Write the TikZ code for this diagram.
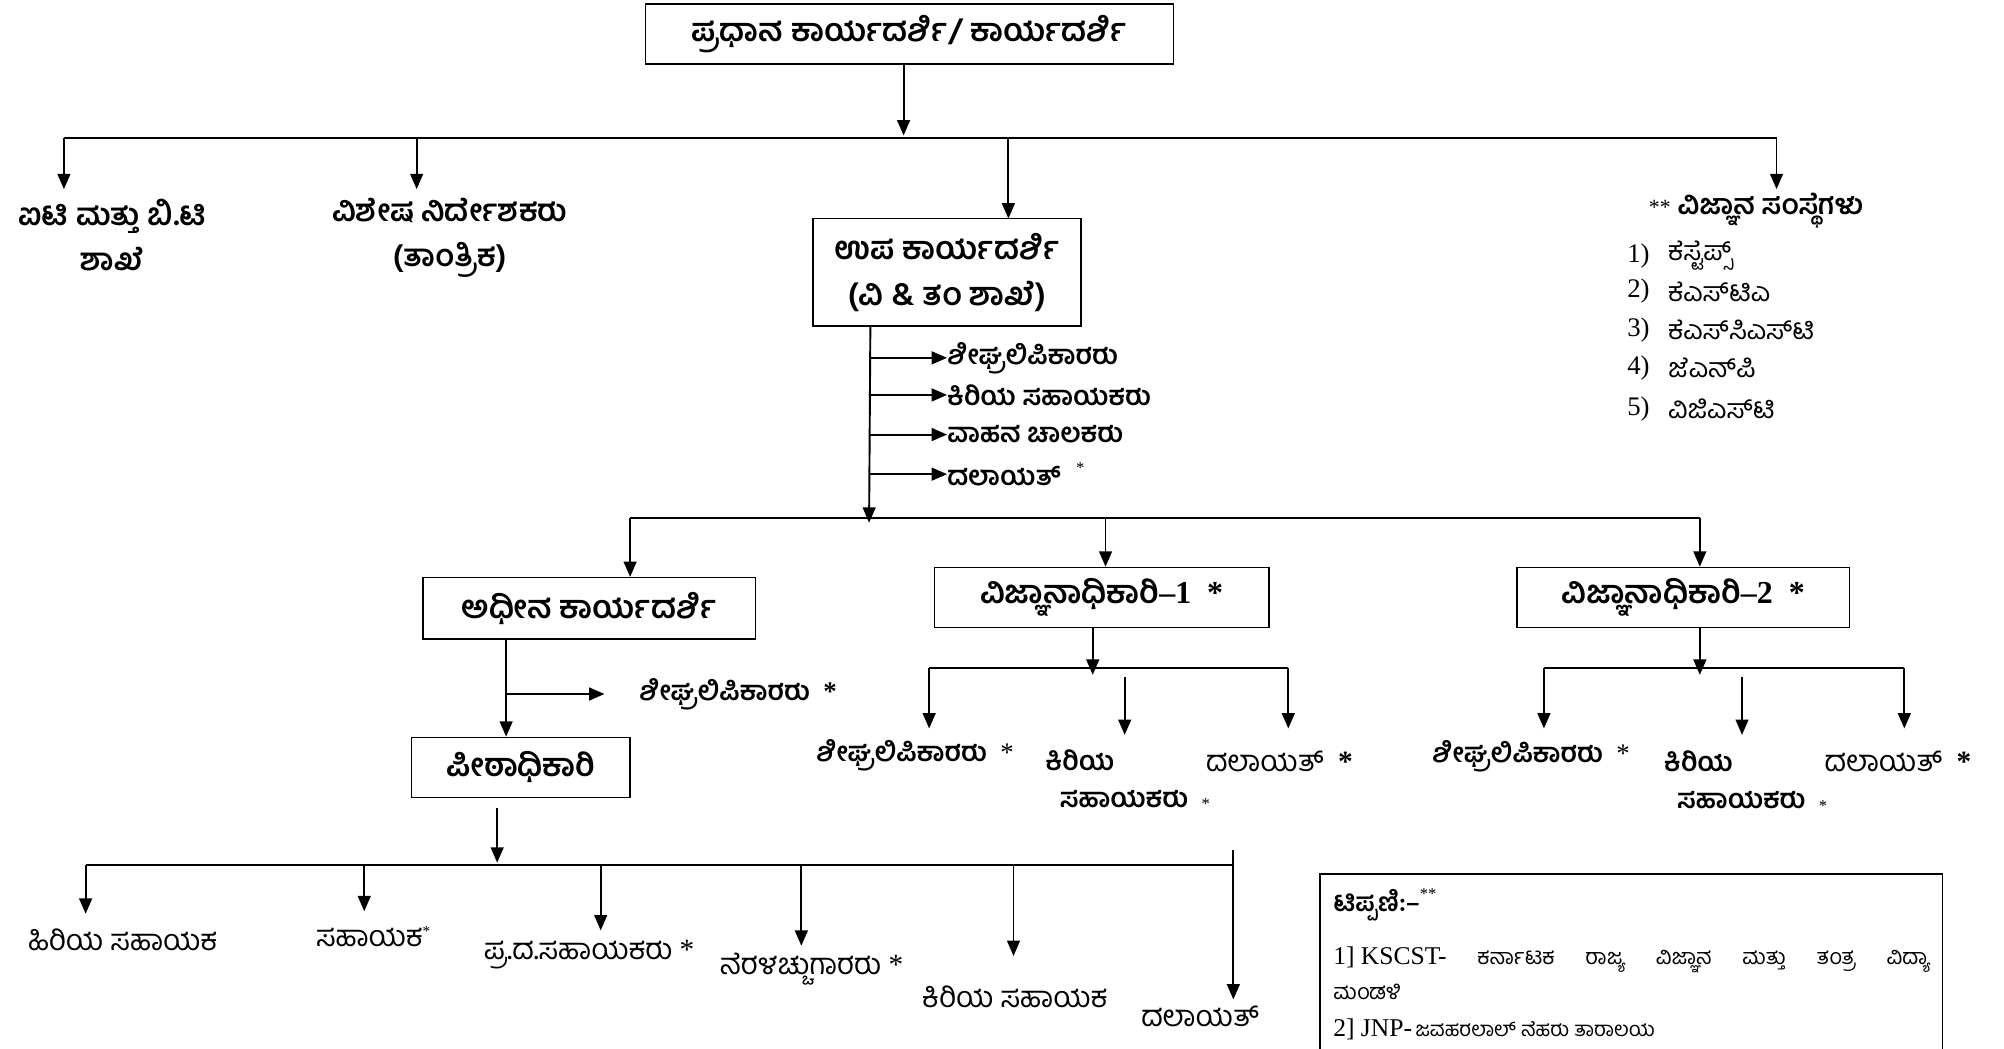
\documentclass[tikz,border=0pt]{standalone}
\usepackage{fontspec}
\setmainfont{Liberation Serif}
\newfontfamily\kn[Script=Kannada]{Hind Mysuru}
\usetikzlibrary{arrows.meta}
\newcommand\myfs[1]{\fontsize{#1}{#1}\selectfont}
\tikzset{
  ln/.style={line width=1.5pt},
  arr/.style={line width=1.5pt,-{Triangle[length=12pt,width=10pt]}},
  bx/.style={draw,line width=1.2pt,inner sep=0pt,align=center,font=\kn\bfseries\fontsize{25}{36}\selectfont},
  tl/.style={inner sep=0pt,align=center,font=\kn\bfseries\fontsize{24}{35}\selectfont},
  bl/.style={inner sep=0pt,align=center,font=\kn\bfseries\fontsize{21}{31}\selectfont},
  rl/.style={inner sep=0pt,align=center,font=\kn\fontsize{23}{30}\selectfont},
}
\begin{document}
\begin{tikzpicture}[x=1pt,y=-1pt]
\useasboundingbox (0,0) rectangle (1568,820);
% ---------- top level ----------
\node[bx,minimum width=413pt,minimum height=47pt] (top) at (711.5,26.5) {ಪ್ರಧಾನ ಕಾರ್ಯದರ್ಶಿ/ ಕಾರ್ಯದರ್ಶಿ};
\coordinate (topOut) at (707,50);
\coordinate (b1L) at (50,108);
\coordinate (b1R) at (1390,108);
\coordinate (b1T) at (707,106);
\draw[arr] (topOut) -- (b1T);
\draw[ln] (b1L) -- (b1R);

\node[tl] (it) at (88,184) {ಐಟಿ ಮತ್ತು ಬಿ.ಟಿ\\ಶಾಖೆ};
\node[tl] (vn) at (352,186) {ವಿಶೇಷ ನಿರ್ದೇಶಕರು\\(ತಾಂತ್ರಿಕ)};
\node[bx,minimum width=210pt,minimum height=84pt] (upa) at (741,213) {ಉಪ ಕಾರ್ಯದರ್ಶಿ\\(ವಿ \& ತಂ ಶಾಖೆ)};
\node[tl,anchor=west,font=\kn\bfseries\myfs{22}] (inst) at (1290,165) {{\rmfamily\mdseries\myfs{17}**} ವಿಜ್ಞಾನ ಸಂಸ್ಥೆಗಳು};

\coordinate (itT) at (50,148);
\coordinate (vnD) at (326,108);
\coordinate (vnT) at (326,148);
\coordinate (upaD) at (789,108);
\coordinate (upaIn) at (789,171);
\coordinate (instT) at (1390,148);
\draw[arr] (b1L) -- (itT);
\draw[arr] (vnD) -- (vnT);
\draw[arr] (upaD) -- (upaIn);
\draw[arr] (b1R) -- (instT);

% institutions list
\foreach \i/\y/\t in {1/200/ಕೆಸ್ಟೆಪ್ಸ್, 2/228/ಕೆಎಸ್^^^^200cಟಿಎ, 3/258/ಕೆಎಸ್^^^^200cಸಿಎಸ್^^^^200cಟಿ, 4/288/ಜೆಎನ್^^^^200cಪಿ, 5/320/ವಿಜಿಎಸ್^^^^200cಟಿ}{
  \node[anchor=west,inner sep=0pt,font=\rmfamily\myfs{21}] (num\i) at (1273,\y) {\i)};
  \node[anchor=west,inner sep=0pt,font=\kn\myfs{21}] (ins\i) at (1305,\y) {\t};
}

% ---------- upa secretary branch ----------
\coordinate (upaOut) at (681,255);
\coordinate (b2S) at (680,409);
\draw[arr] (upaOut) -- (b2S);
\node[bl,anchor=west] (s1) at (741,280) {ಶೀಘ್ರಲಿಪಿಕಾರರು};
\node[bl,anchor=west] (s2) at (741,309) {ಕಿರಿಯ ಸಹಾಯಕರು};
\node[bl,anchor=west] (s3) at (741,340) {ವಾಹನ ಚಾಲಕರು};
\node[bl,anchor=west] (s4) at (741,371) {ದಲಾಯತ್\hspace{12pt}\raisebox{9pt}{\rmfamily\mdseries\myfs{13}*}};
\foreach \s in {s1,s2,s3,s4}{ \draw[arr] (\s.west -| upaOut) -- (\s.west); }

\coordinate (b2L) at (493,405);
\coordinate (b2R) at (1330,405);
\coordinate (b2M) at (865,405);
\draw[ln] (b2L) -- (b2R);

\node[bx,minimum width=260pt,minimum height=48pt] (adh) at (461,476) {ಅಧೀನ ಕಾರ್ಯದರ್ಶಿ};
\node[bx,minimum width=262pt,minimum height=47pt] (v1) at (862,467.5) {ವಿಜ್ಞಾನಾಧಿಕಾರಿ{\rmfamily–1\ \ *}};
\node[bx,minimum width=260pt,minimum height=47pt] (v2) at (1317,467.5) {ವಿಜ್ಞಾನಾಧಿಕಾರಿ{\rmfamily–2\ \ *}};
\draw[arr] (b2L) -- (b2L |- adh.north);
\draw[arr] (b2M) -- (b2M |- v1.north);
\draw[arr] (b2R) -- (b2R |- v2.north);

% ---------- adhina branch ----------
\node[bx,minimum width=171pt,minimum height=47pt] (pith) at (407.5,600.5) {ಪೀಠಾಧಿಕಾರಿ};
\coordinate (adhOut) at (396,500);
\draw[arr] (adhOut) -- (adhOut |- pith.north);
\node[bl,anchor=west] (as) at (500,543) {ಶೀಘ್ರಲಿಪಿಕಾರರು\ \ {\rmfamily *}};
\coordinate (adhSide) at (396,543);
\draw[arr,shorten >=27pt] (adhSide) -- (as.west);

\coordinate (pithOut) at (389,632);
\coordinate (b3S) at (389,675);
\draw[arr] (pithOut) -- (b3S);
\coordinate (b3L) at (67,677);
\coordinate (b3R) at (965,677);
\coordinate (b3Top) at (965,665);
\draw[ln] (b3L) -- (b3R);

\node[rl] (p1) at (96,735) {ಹಿರಿಯ ಸಹಾಯಕ};
\node[rl] (p2) at (292,733) {ಸಹಾಯಕ\raisebox{8pt}{\rmfamily\myfs{12}*}};
\node[rl] (p3) at (461,747) {ಪ್ರ.ದ.ಸಹಾಯಕರು {\rmfamily *}};
\node[rl] (p4) at (635,758) {ನೆರಳಚ್ಚುಗಾರರು {\rmfamily *}};
\node[rl] (p5) at (794,780) {ಕಿರಿಯ ಸಹಾಯಕ};
\node[rl] (p6) at (939,795) {ದಲಾಯತ್};
\coordinate (d2) at (285,677); \coordinate (d3) at (470,677);
\coordinate (d4) at (627,677); \coordinate (d5) at (793,677);
\coordinate (t1) at (67,715); \coordinate (t2) at (285,713);
\coordinate (t3) at (470,728); \coordinate (t4) at (627,740);
\coordinate (t5) at (793,748); \coordinate (t6) at (965,782);
\draw[arr] (b3L) -- (t1);
\draw[arr] (d2) -- (t2);
\draw[arr] (d3) -- (t3);
\draw[arr] (d4) -- (t4);
\draw[arr] (d5) -- (t5);
\draw[arr] (b3Top) -- (t6);

% ---------- scientific officer 1 ----------
\coordinate (v1Out) at (855,491);
\coordinate (v1S) at (855,528);
\draw[arr] (v1Out) -- (v1S);
\coordinate (v1L) at (727,523); \coordinate (v1R) at (1008,523);
\draw[ln] (v1L) -- (v1R);
\coordinate (v1MT) at (880,530); \coordinate (v1MB) at (880,575);
\coordinate (v1LB) at (727,570); \coordinate (v1RB) at (1008,570);
\draw[arr] (v1L) -- (v1LB);
\draw[arr] (v1MT) -- (v1MB);
\draw[arr] (v1R) -- (v1RB);
\node[bl] (v1a) at (716,591) {ಶೀಘ್ರಲಿಪಿಕಾರರು\ \ {\rmfamily\mdseries *}};
\node[bl] (v1b) at (845,595) {ಕಿರಿಯ};
\node[bl] (v1c) at (888,626) {ಸಹಾಯಕರು\ \ \raisebox{-2pt}{\rmfamily\mdseries\myfs{13}*}};
\node[rl] (v1d) at (1001,596) {ದಲಾಯತ್\ \ {\rmfamily\bfseries *}};

% ---------- scientific officer 2 ----------
\coordinate (v2Out) at (1330,491);
\coordinate (v2S) at (1330,528);
\draw[arr] (v2Out) -- (v2S);
\coordinate (v2L) at (1208,523); \coordinate (v2R) at (1490,523);
\draw[ln] (v2L) -- (v2R);
\coordinate (v2MT) at (1363,530); \coordinate (v2MB) at (1363,575);
\coordinate (v2LB) at (1208,570); \coordinate (v2RB) at (1490,570);
\draw[arr] (v2L) -- (v2LB);
\draw[arr] (v2MT) -- (v2MB);
\draw[arr] (v2R) -- (v2RB);
\node[bl] (v2a) at (1198,592) {ಶೀಘ್ರಲಿಪಿಕಾರರು\ \ {\rmfamily\mdseries *}};
\node[bl] (v2b) at (1329,596) {ಕಿರಿಯ};
\node[bl] (v2c) at (1371,627) {ಸಹಾಯಕರು\ \ \raisebox{-2pt}{\rmfamily\mdseries\myfs{13}*}};
\node[rl] (v2d) at (1485,596) {ದಲಾಯತ್\ \ {\rmfamily\bfseries *}};

% ---------- notes ----------
\draw[line width=1.2pt] (1033,830) -- (1033,684) -- (1520,684) -- (1520,830);
\node[anchor=west,inner sep=0pt,font=\kn\bfseries\myfs{20}] (nt) at (1043,708) {ಟಿಪ್ಪಣಿ:–\raisebox{10pt}{\rmfamily\mdseries\myfs{13}**}};
\node[anchor=west,inner sep=0pt] (nl1) at (1043,751) {\makebox[467pt][s]{\mbox{\rmfamily\myfs{20}1] KSCST-} {\kn\myfs{17}ಕರ್ನಾಟಕ} {\kn\myfs{17}ರಾಜ್ಯ} {\kn\myfs{17}ವಿಜ್ಞಾನ} {\kn\myfs{17}ಮತ್ತು} {\kn\myfs{17}ತಂತ್ರ} {\kn\myfs{17}ವಿದ್ಯಾ}}};
\node[anchor=west,inner sep=0pt,font=\kn\myfs{17}] (nl2) at (1043,776) {ಮಂಡಳಿ};
\node[anchor=west,inner sep=0pt] (nl3) at (1043,805) {{\rmfamily\myfs{20}2] JNP-} {\kn\myfs{16}ಜವಹರಲಾಲ್ ನೆಹರು ತಾರಾಲಯ}};
\end{tikzpicture}
\end{document}
